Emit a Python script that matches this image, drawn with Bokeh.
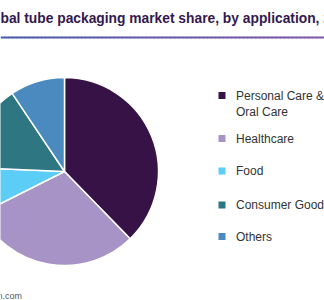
import numpy as np
from bokeh.plotting import figure
from bokeh.models import Range1d, ColumnDataSource
from bokeh.core.properties import value
from bokeh.embed import file_html
from bokeh.resources import INLINE

# ---- data ----
categories = ["Personal Care & Oral Care", "Healthcare", "Food", "Consumer Goods", "Others"]
legend_labels = ["Personal Care &\nOral Care", "Healthcare", "Food", "Consumer Goods", "Others"]
shares = [37.7, 29.9, 8.1, 14.9, 9.4]
colors = ["#361246", "#a793c5", "#5ccdf6", "#2f7683", "#4b8abf"]
title_text = "Global tube packaging market share, by application, 2019 (%)"
source_text = "Source: www.grandviewresearch.com"

W, H = 324, 300

p = figure(width=W, height=H, output_backend="svg", toolbar_location=None,
           x_range=Range1d(0, W), y_range=Range1d(0, H), min_border=0,
           background_fill_color="white", border_fill_color="white")
p.axis.visible = False
p.grid.visible = False
p.outline_line_color = None

def Y(py):
    return H - py

# ---- pie ----
vals = np.array(shares, dtype=float)
frac = vals / vals.sum()
cum = np.concatenate([[0], np.cumsum(frac)])
start = np.pi / 2 - cum[:-1] * 2 * np.pi
end = np.pi / 2 - cum[1:] * 2 * np.pi
src = ColumnDataSource(dict(start=start, end=end, color=colors, cat=categories))
p.wedge(x=64, y=Y(171), radius=94, radius_units="screen", start_angle="start", end_angle="end",
        direction="clock", fill_color="color", line_color="white", line_width=1.5, source=src)

# ---- title ----
p.text(x=[-23], y=[Y(17.5)], text=[title_text], text_font=value("Liberation Sans"),
       text_font_style="bold", text_font_size="13.8px", text_color="#33184f",
       text_baseline="middle", text_align="left")

# ---- gradient rule under title ----
n = 80
xs = np.linspace(0, W, n + 1)
c0 = np.array([0x4b, 0x5c, 0xa8]); c1 = np.array([0x80, 0x57, 0xa6])
seg_colors = []
for i in range(n):
    t = i / (n - 1)
    c = (c0 * (1 - t) + c1 * t).astype(int)
    seg_colors.append("#%02x%02x%02x" % tuple(c))
p.segment(x0=xs[:-1], y0=[Y(37)] * n, x1=xs[1:] + 0.5, y1=[Y(37)] * n,
          line_color=seg_colors, line_width=2)

# ---- legend ----
leg_y = [95, 138, 170.5, 204.5, 236]
p.scatter(x=[221.5] * len(categories), y=[Y(v) for v in leg_y], marker="square", size=7,
          fill_color=colors, line_color=None)
p.text(x=[235.5] * len(categories), y=[Y(v) for v in leg_y], text=legend_labels,
       text_font=value("Liberation Sans"), text_font_size="12px", text_color="#333333",
       text_baseline="top", text_align="left", y_offset=-7, text_line_height=1.2)

# ---- source ----
p.text(x=[21.5], y=[Y(295.5)], text=[source_text], text_font=value("Liberation Sans"),
       text_font_size="9px", text_color="#555555", text_baseline="middle", text_align="right")

open("out.html", "w").write(file_html(p, INLINE))
